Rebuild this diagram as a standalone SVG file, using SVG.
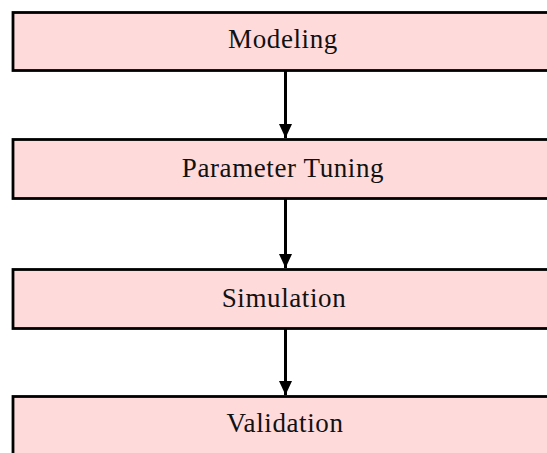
<svg xmlns="http://www.w3.org/2000/svg" width="547" height="453" viewBox="0 0 547 453">
<defs>
<style>
.box{fill:#FFDADA;stroke:#000;stroke-width:2.8}
.lbl{font-family:"Liberation Serif","Times New Roman",serif;font-size:27px;fill:#111;text-anchor:middle;letter-spacing:0.6px}
.conn{stroke:#000;stroke-width:3;fill:none;marker-end:url(#ah)}
</style>
<marker id="ah" viewBox="0 0 14 13" refX="14" refY="6.5" markerWidth="14" markerHeight="13" markerUnits="userSpaceOnUse" orient="auto">
<path d="M0,0 L14,6.5 L0,13 z" fill="#000"/>
</marker>
</defs>
<rect width="547" height="453" fill="#fff"/>
<g id="modeling"><rect class="box" x="13" y="12.5" width="560" height="58"/><text class="lbl" x="283" y="48">Modeling</text></g>
<g id="parameter-tuning"><rect class="box" x="13" y="139.5" width="560" height="59"/><text class="lbl" x="283" y="177">Parameter Tuning</text></g>
<g id="simulation"><rect class="box" x="13" y="269.5" width="560" height="59"/><text class="lbl" x="284" y="307">Simulation</text></g>
<g id="validation"><rect class="box" x="13" y="396.5" width="560" height="80"/><text class="lbl" x="285" y="432">Validation</text></g>
<g id="connectors">
<line class="conn" x1="285.5" y1="71" x2="285.5" y2="138"/>
<line class="conn" x1="285.5" y1="199" x2="285.5" y2="268"/>
<line class="conn" x1="285.5" y1="329" x2="285.5" y2="395"/>
</g>
</svg>
